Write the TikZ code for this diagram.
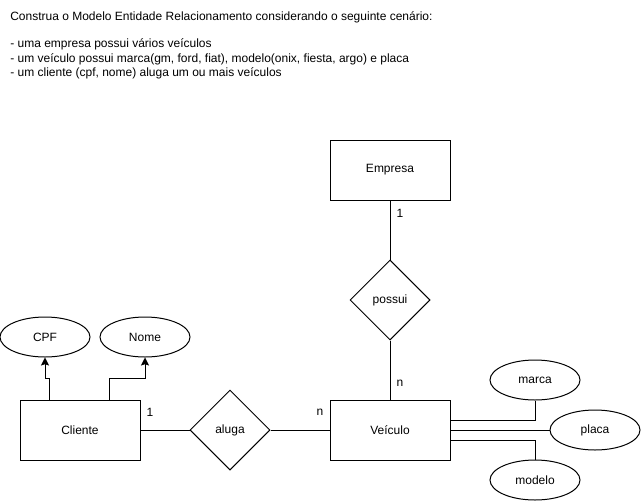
\documentclass[tikz,border=0pt]{standalone}
\usepackage{fontspec}
\setmainfont{Liberation Sans}
\usetikzlibrary{shapes.geometric,arrows.meta,calc}
\begin{document}
\begin{tikzpicture}[x=0.75pt,y=-0.75pt,
  every node/.style={font=\fontsize{9}{10.5}\selectfont},
  line/.style={draw=black,line width=0.75pt},
  ent/.style={line,rectangle,minimum width=90pt,minimum height=45pt,inner sep=0pt},
  rel/.style={line,diamond,aspect=1,minimum width=60pt,minimum height=60pt,inner sep=0pt},
  att/.style={line,ellipse,minimum width=67.5pt,minimum height=30pt,inner sep=0pt},
  arr/.style={line,-{Stealth[length=6pt,width=6pt,inset=1pt]}},
  lbl/.style={inner sep=0pt}]
\useasboundingbox (0,0) rectangle (641,503);
% header text
\node[anchor=base west,inner sep=0pt] (t1) at (10,21) {Construa o Modelo Entidade Relacionamento considerando o seguinte cenário:};
\node[anchor=base west,inner sep=0pt] (t2) at (10,48) {- uma empresa possui vários veículos};
\node[anchor=base west,inner sep=0pt] (t3) at (10,62) {- um veículo possui marca(gm, ford, fiat), modelo(onix, fiesta, argo) e placa};
\node[anchor=base west,inner sep=0pt] (t4) at (10,76) {- um cliente (cpf, nome) aluga um ou mais veículos};
% entities
\node[ent] (Empresa) at (390,170) {Empresa};
\node[ent] (Veiculo) at (390,430) {Veículo};
\node[ent] (Cliente) at (80,430) {Cliente};
% relations
\node[rel] (possui) at (390,300) {possui};
\node[rel] (aluga) at (230,430) {aluga};
% attributes
\node[att] (CPF) at (45,337) {CPF};
\node[att] (Nome) at (145,337) {Nome};
\node[att] (marca) at (535,380) {marca};
\node[att] (placa) at (595,430) {placa};
\node[att] (modelo) at (535,480) {modelo};
% connectors
\draw[line] (Empresa.south) -- (possui.north);
\draw[line] (possui.south) -- (Veiculo.north);
\draw[line] (Cliente.east) -- (aluga.west);
\draw[line] (aluga.east) -- (Veiculo.west);
\coordinate (c1) at ($(Cliente.north west)+(30,0)$);
\coordinate (c2) at ($(Cliente.north west)+(90,0)$);
\draw[arr] (c1) -- ++(0,-21) -| (CPF.south);
\draw[arr] (c2) -- ++(0,-21) -| (Nome.south);
\coordinate (v1) at ($(Veiculo.east)+(0,-10)$);
\coordinate (v2) at ($(Veiculo.east)+(0,10)$);
\draw[line] (v1) -| (marca.south);
\draw[line] (Veiculo.east) -- (placa.west);
\draw[line] (v2) -| (modelo.north);
% cardinalities
\node[lbl] (l1) at (400,213) {1};
\node[lbl] (l2) at (400,383) {n};
\node[lbl] (l3) at (150,412) {1};
\node[lbl] (l4) at (320,412) {n};
\end{tikzpicture}
\end{document}
